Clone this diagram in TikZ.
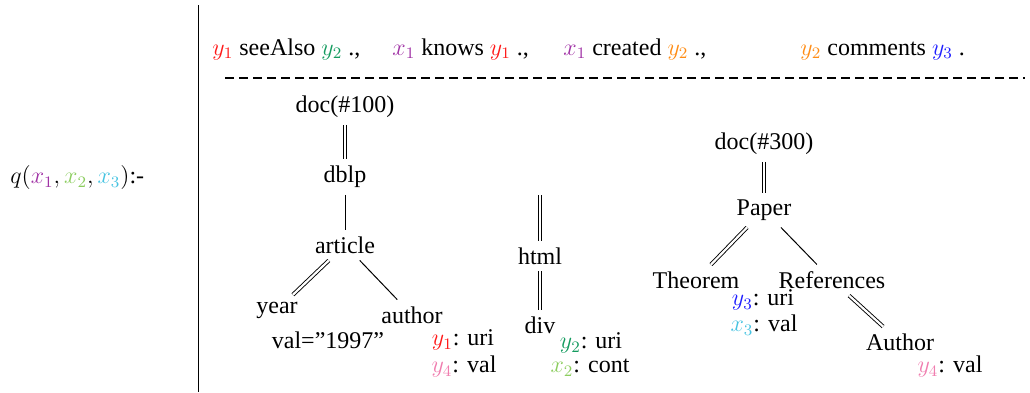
\documentclass[tikz,border=0pt]{standalone}
\usepackage[no-math]{fontspec}
\setmainfont{Liberation Serif}
\definecolor{cyA}{RGB}{255,25,25}
\definecolor{cyB}{RGB}{20,155,95}
\definecolor{cxA}{RGB}{160,50,165}
\definecolor{cyBo}{RGB}{255,140,20}
\definecolor{cyC}{RGB}{30,30,255}
\definecolor{cxB}{RGB}{140,205,95}
\definecolor{cxC}{RGB}{70,195,225}
\definecolor{cyD}{RGB}{240,125,175}
\begin{document}
\begin{tikzpicture}[x=0.5pt,y=-0.5pt,
  every node/.style={font=\fontsize{12}{14}\selectfont},
  tnode/.style={inner sep=3.3pt},
  attr/.style={inner sep=0pt},
  toptext/.style={anchor=base west, inner sep=0pt},
  dbl/.style={draw, double, double distance=1.1pt, line width=0.45pt},
  sgl/.style={draw, line width=0.5pt},
  rule/.style={draw, line width=0.5pt},
  dashrule/.style={draw, line width=1.3pt, dash pattern=on 4.5pt off 2.5pt}]
\useasboundingbox (0,0) rectangle (1030,392);

% head of the rule
\node[anchor=base west, inner sep=0pt] (head) at (10,183.5) {$q({\color{cxA}x_1}, {\color{cxB}x_2}, {\color{cxC}x_3})$:-};
\coordinate (vtop) at (198,5);
\coordinate (vbot) at (198,392);
\draw[rule] (vtop) -- (vbot);

% top triples
\node[toptext] (t1) at (212,55) {$\color{cyA}y_1$ seeAlso $\color{cyB}y_2$ .,};
\node[toptext] (t2) at (392,55) {$\color{cxA}x_1$ knows $\color{cyA}y_1$ .,};
\node[toptext] (t3) at (563,55) {$\color{cxA}x_1$ created $\color{cyBo}y_2$ .,};
\node[toptext] (t4) at (800,55) {$\color{cyBo}y_2$ comments $\color{cyC}y_3$ .};
\coordinate (dl) at (225,78);
\coordinate (dr) at (1025,78);
\draw[dashrule] (dl) -- (dr);

% tree 1
\node[tnode] (doc1) at (345,107) {doc(\#100)};
\node[tnode] (dblp) at (345,177) {dblp};
\node[tnode] (art) at (345,245) {article};
\node[tnode] (year) at (277,310) {year};
\node[tnode] (auth) at (412,315) {author};
\node[attr] (v1997) at (328,340) {val=”1997”};
\node[attr] (a1) at (463,340) {$\color{cyA}y_1$: uri};
\node[attr] (a2) at (464,367) {$\color{cyD}y_4$: val};
\draw[dbl] (doc1) -- (dblp);
\draw[sgl] (dblp) -- (art);
\draw[dbl] (art) -- (year);
\draw[sgl] (art) -- (auth);

% tree 2
\coordinate (htop) at (540,195);
\node[tnode] (html) at (540,256) {html};
\node[tnode] (div) at (540,325) {div};
\node[attr] (b1) at (591,343) {$\color{cyB}y_2$: uri};
\node[attr] (b2) at (590,368) {$\color{cxB}x_2$: cont};
\draw[dbl] (htop) -- (html);
\draw[dbl] (html) -- (div);

% tree 3
\node[tnode] (doc3) at (764,144) {doc(\#300)};
\node[tnode] (paper) at (764,210) {Paper};
\node[tnode] (thm) at (696,280) {Theorem};
\node[tnode] (refs) at (832,280) {References};
\node[tnode] (auth3) at (900,342) {Author};
\node[attr] (c1) at (763,300) {$\color{cyC}y_3$: uri};
\node[attr] (c2) at (764,325) {$\color{cxC}x_3$: val};
\node[attr] (c3) at (950,367) {$\color{cyD}y_4$: val};
\draw[dbl] (doc3) -- (paper);
\draw[dbl] (paper) -- (thm);
\draw[sgl] (paper) -- (refs);
\draw[dbl] (refs) -- (auth3);
\end{tikzpicture}
\end{document}
